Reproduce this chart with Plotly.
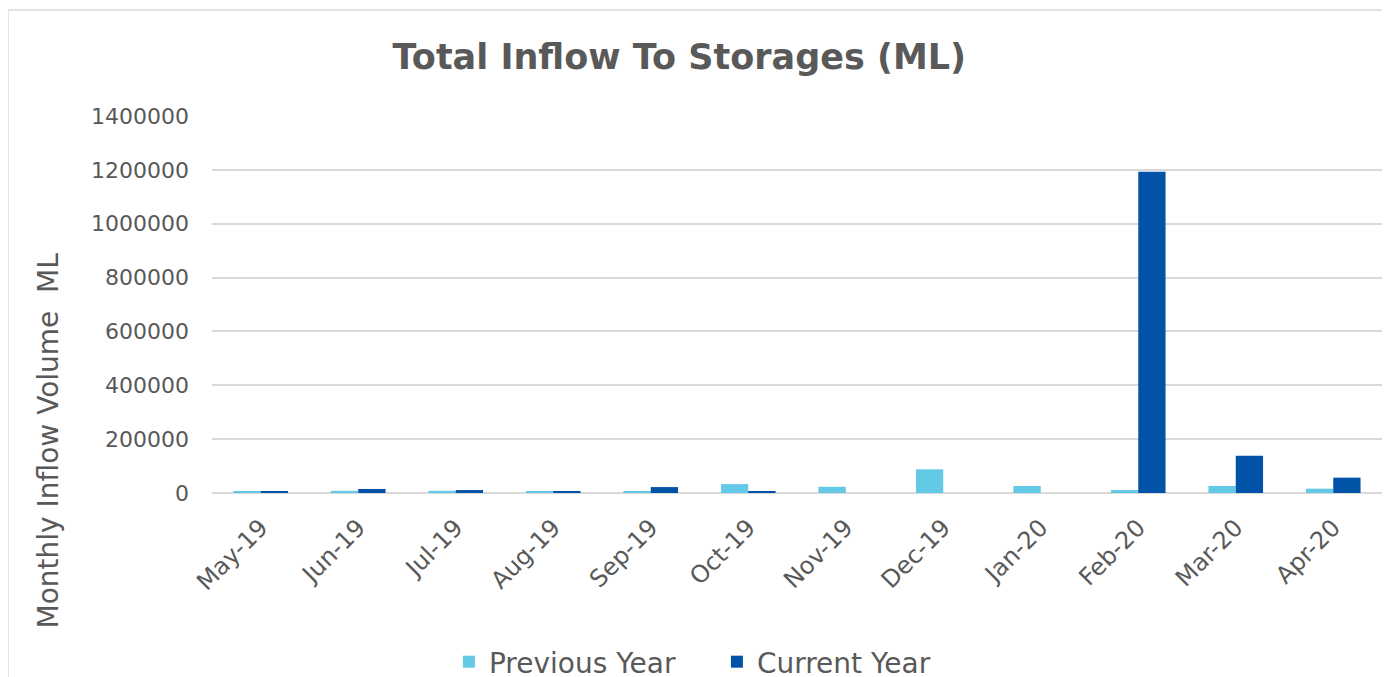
import plotly.graph_objects as go

months = ["May-19", "Jun-19", "Jul-19", "Aug-19", "Sep-19", "Oct-19",
          "Nov-19", "Dec-19", "Jan-20", "Feb-20", "Mar-20", "Apr-20"]
previous_year = [4000, 8000, 8000, 4000, 6000, 33000, 23000, 88000, 26000, 11000, 26000, 16000]
current_year = [4000, 15000, 11000, 6000, 22000, 7000, 0, 0, 0, 1193000, 138000, 57000]
y_ticks = [0, 200000, 400000, 600000, 800000, 1000000, 1200000, 1400000]

FONT = "DejaVu Sans"
GRAY = "#595959"

fig = go.Figure()
fig.add_trace(go.Bar(x=months, y=previous_year, name="Previous Year",
                     marker=dict(color="#63c9e6", line=dict(width=0))))
fig.add_trace(go.Bar(x=months, y=current_year, name="Current Year",
                     marker=dict(color="#0053a6", line=dict(width=0))))

fig.update_layout(
    width=1390, height=677,
    margin=dict(l=204, r=16, t=108, b=192),
    paper_bgcolor="white", plot_bgcolor="white",
    barmode="group", bargap=0.44, bargroupgap=0,
    title=dict(text="<b>Total Inflow To Storages (ML)</b>", x=0.483, xanchor="center",
               y=0.928, yanchor="middle",
               font=dict(family=FONT, size=35, color=GRAY)),
    font=dict(family=FONT, color=GRAY),
    showlegend=True,
    legend=dict(orientation="h", xref="container", yref="container",
                x=0.51, xanchor="center", y=0.034, yanchor="middle",
                font=dict(family=FONT, size=28, color=GRAY), traceorder="normal",
                itemsizing="constant", entrywidth=223),
    xaxis=dict(tickangle=-45, tickfont=dict(size=24, color=GRAY), showgrid=False,
               showline=True, linecolor="#d9d9d9", linewidth=1, ticks="",
               ticklabelstandoff=10),
    yaxis=dict(range=[0, 1400000], tickvals=y_ticks, ticktext=[str(v) for v in y_ticks],
               tickfont=dict(size=22, color=GRAY), showgrid=True, gridcolor="#d9d9d9",
               gridwidth=1.5, zeroline=True, zerolinecolor="#d9d9d9", zerolinewidth=1.5,
               ticks="", ticklabelstandoff=22),
    annotations=[dict(text="Monthly Inflow Volume  ML", xref="paper", yref="paper",
                      x=-0.14, y=0.14, textangle=-90, showarrow=False,
                      xanchor="center", yanchor="middle",
                      font=dict(family=FONT, size=28, color=GRAY))],
    shapes=[dict(type="rect", xref="paper", yref="paper", x0=-0.1744, x1=1.0009,
                 y0=-0.7, y1=1.281, line=dict(color="#d9d9d9", width=1.5),
                 fillcolor="rgba(0,0,0,0)", layer="below")],
)

fig.write_html("out.html")
